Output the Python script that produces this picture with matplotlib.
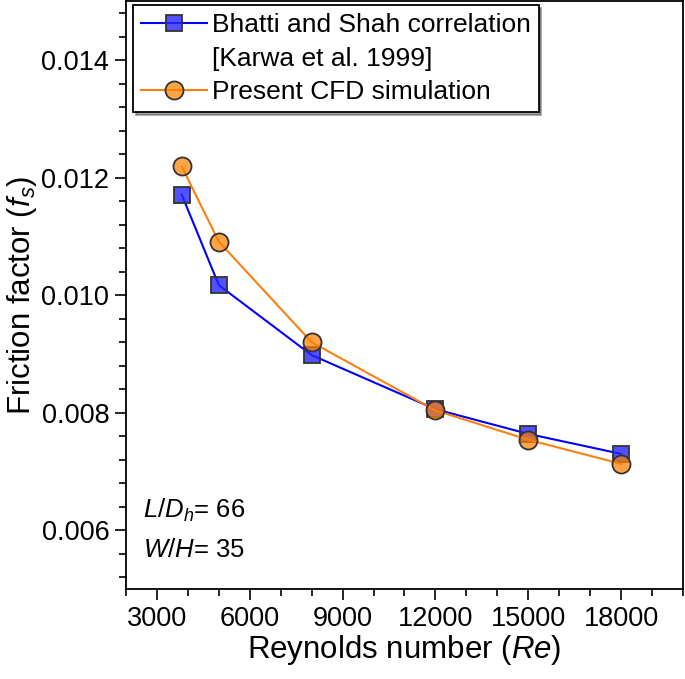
import matplotlib
matplotlib.use("Agg")
import matplotlib.pyplot as plt
from matplotlib.ticker import MultipleLocator
from matplotlib.lines import Line2D

plt.rcParams["font.family"] = ["Liberation Sans", "DejaVu Sans"]
plt.rcParams["mathtext.fontset"] = "custom"
plt.rcParams["mathtext.rm"] = "Liberation Sans"
plt.rcParams["mathtext.it"] = "Liberation Sans:italic"

# data
re_vals = [3800, 5000, 8000, 12000, 15000, 18000]
f_bhatti = [0.01171, 0.01017, 0.00898, 0.00806, 0.00764, 0.00730]
f_cfd = [0.01219, 0.01091, 0.00920, 0.00804, 0.00754, 0.00713]

label_bhatti = "Bhatti and Shah correlation"
label_ref = "[Karwa et al. 1999]"
label_cfd = "Present CFD simulation"

fig = plt.figure(figsize=(6.85, 6.79), dpi=100)
ax = fig.add_axes([0.184, 0.1325, 0.813, 0.8655])

ax.plot(re_vals, f_bhatti, color="#0000ff", lw=1.5, marker="s", ms=11.5,
        mfc=(0.15, 0.15, 1.0, 0.8), mec="#333333", mew=1.3, zorder=3)
ax.plot(re_vals, f_cfd, color="#ff7f0e", lw=1.5, marker="o", ms=13,
        mfc=(1.0, 0.5, 0.0, 0.72), mec="#333333", mew=1.3, zorder=4)

ax.set_xlim(2000, 20000)
ax.set_ylim(0.005, 0.015)
ax.xaxis.set_major_locator(MultipleLocator(3000))
ax.xaxis.set_minor_locator(MultipleLocator(1000))
ax.yaxis.set_major_locator(MultipleLocator(0.002))
ax.yaxis.set_minor_locator(MultipleLocator(0.0004))
ax.yaxis.set_major_formatter(plt.FuncFormatter(lambda v, p: f"{v:.3f}"))
ax.tick_params(which="major", direction="out", length=8, width=1.2, labelsize=19.5, pad=4)
ax.tick_params(which="minor", direction="out", length=5, width=1.2)
for s in ax.spines.values():
    s.set_linewidth(1.3)

ax.set_xlabel("Reynolds number ($Re$)", fontsize=22.5, labelpad=1)
ax.set_ylabel("Friction factor ($f_s$)", fontsize=22.5, labelpad=2)

ax.text(0.03, 0.134, "$L/D_h$= 66", transform=ax.transAxes, fontsize=18.5, va="center")
ax.text(0.03, 0.066, "$W/H$= 35", transform=ax.transAxes, fontsize=18.5, va="center")

handles = [
    Line2D([], [], color="#0000ff", lw=1.5, marker="s", ms=11.5,
           mfc=(0.15, 0.15, 1.0, 0.8), mec="#333333", mew=1.3),
    Line2D([], [], color="none"),
    Line2D([], [], color="#ff7f0e", lw=1.5, marker="o", ms=13,
           mfc=(1.0, 0.5, 0.0, 0.72), mec="#333333", mew=1.3),
]
leg = ax.legend(handles, [label_bhatti, label_ref, label_cfd], loc="upper left",
                bbox_to_anchor=(0.012, 0.993), fontsize=19, frameon=True, shadow=True,
                fancybox=False, edgecolor="black", handlelength=2.5,
                handletextpad=0.2, labelspacing=0.35, borderpad=0.3, borderaxespad=0)
leg.get_frame().set_linewidth(1.3)

fig.savefig("out.png", dpi=100)
